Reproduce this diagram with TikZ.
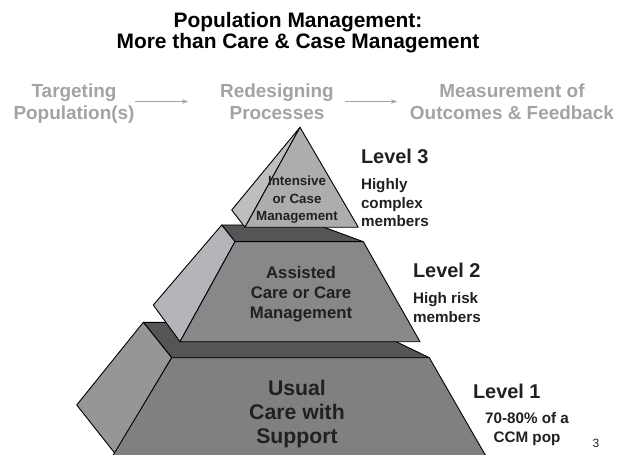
\documentclass[tikz,border=0pt]{standalone}
\usepackage{fontspec}
\setmainfont{Liberation Sans}
\usetikzlibrary{arrows.meta}
\definecolor{txtdark}{HTML}{231F20}
\definecolor{rowgray}{HTML}{A3A3A5}
\definecolor{topdark}{HTML}{555558}
\definecolor{lonefront}{HTML}{808083}
\definecolor{loneleft}{HTML}{969699}
\definecolor{ltwofront}{HTML}{88888A}
\definecolor{ltwoleft}{HTML}{B4B5B8}
\definecolor{lthreefront}{HTML}{ADADAF}
\definecolor{lthreeleft}{HTML}{BEBEC0}
\newcommand\myfs[2]{\fontsize{#1}{#2}\selectfont}
\begin{document}
\begin{tikzpicture}[x=1bp,y=-1bp,
  txt/.style={inner sep=0pt, outer sep=0pt, anchor=base, align=center, font=\bfseries},
  ltxt/.style={inner sep=0pt, outer sep=0pt, anchor=base west, align=left, font=\bfseries},
  face/.style={draw=black, line width=0.9bp, line join=round},
  flowarrow/.style={draw=rowgray, line width=1.2bp, -{Stealth[length=6bp,width=4.5bp]}}]
\useasboundingbox (0,0) rectangle (621,455);
\begin{scope}
\clip (0,0) rectangle (621,455);
% level 1
\filldraw[face, fill=topdark] (143.3,322.3) -- (356,322.3) -- (429.3,357.7) -- (171.7,357.7) -- cycle;
\filldraw[face, fill=loneleft] (143.3,322.3) -- (171.7,357.7) -- (115,453.5) -- (76.7,405) -- cycle;
\filldraw[face, fill=lonefront] (171.7,357.7) -- (429.3,357.7) -- (487,458) -- (111.5,458) -- cycle;
% level 2
\filldraw[face, fill=topdark] (221.7,225) -- (318,225) -- (363.3,241.7) -- (235,241.7) -- cycle;
\filldraw[face, fill=ltwoleft] (221.7,225) -- (235,241.7) -- (180,341.7) -- (153.3,305) -- cycle;
\filldraw[face, fill=ltwofront] (235,241.7) -- (363.3,241.7) -- (420,341.7) -- (180,341.7) -- cycle;
% level 3
\filldraw[face, fill=lthreeleft] (300,127.3) -- (245,227.3) -- (231.7,210) -- cycle;
\filldraw[face, fill=lthreefront] (300,127.3) -- (358.3,227.3) -- (245,227.3) -- cycle;
\end{scope}
% title
\node[txt, text=black, font=\bfseries\myfs{21}{22}] (title) at (298,49) {Population Management:\\More than Care \& Case Management};
% process row
\node[txt, text=rowgray, font=\bfseries\myfs{19}{23}] (targ) at (74,120) {Targeting\\Population(s)};
\node[txt, text=rowgray, font=\bfseries\myfs{19}{23}] (redes) at (277,120) {Redesigning\\Processes};
\node[txt, text=rowgray, font=\bfseries\myfs{19}{23}] (meas) at (512,120) {Measurement of\\Outcomes \& Feedback};
\coordinate (a1s) at (135,101.5);
\coordinate (a1e) at (188,101.5);
\coordinate (a2s) at (345,101.5);
\coordinate (a2e) at (397,101.5);
\draw[flowarrow] (a1s) -- (a1e);
\draw[flowarrow] (a2s) -- (a2e);
% inner texts
\node[txt, text=txtdark, font=\bfseries\myfs{13.4}{18}] (inner3) at (297,221) {Intensive\\or Case\\Management};
\node[txt, text=txtdark, font=\bfseries\myfs{16.8}{20}] (inner2) at (301,318) {Assisted\\Care or Care\\Management};
\node[txt, text=txtdark, font=\bfseries\myfs{21.3}{24}] (inner1) at (297,443) {Usual\\Care with\\Support};
% level labels
\node[ltxt, text=txtdark, font=\bfseries\myfs{20}{24}] (lev3) at (361,164) {Level 3};
\node[ltxt, text=txtdark, font=\bfseries\myfs{15.3}{19}] (sub3) at (361,227) {Highly\\complex\\members};
\node[ltxt, text=txtdark, font=\bfseries\myfs{20}{24}] (lev2) at (413,278) {Level 2};
\node[ltxt, text=txtdark, font=\bfseries\myfs{15.3}{19}] (sub2) at (413,322) {High risk\\members};
\node[ltxt, text=txtdark, font=\bfseries\myfs{20}{24}] (lev1) at (473,398) {Level 1};
\node[txt, text=txtdark, font=\bfseries\myfs{15.3}{19}] (sub1) at (527,442) {70-80\% of a\\CCM pop};
\node[txt, text=txtdark, font=\myfs{12}{14}] (pagenum) at (596,447) {3};
\end{tikzpicture}
\end{document}
